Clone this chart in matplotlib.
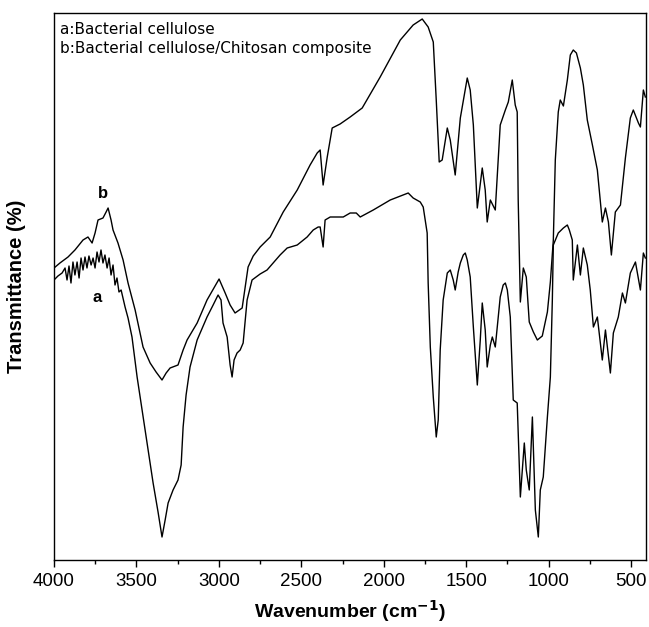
import matplotlib
matplotlib.use("Agg")
import matplotlib.pyplot as plt
import numpy as np

plt.rcParams['font.family'] = ['Liberation Sans', 'DejaVu Sans']

# Curve a: Bacterial cellulose (wavenumber cm-1, transmittance a.u.)
wn_a = [4000, 3976, 3951, 3933, 3921, 3909, 3897, 3885, 3873, 3860, 3848, 3836, 3824, 3812, 3800,
        3788, 3775, 3763, 3751, 3739, 3727, 3715, 3703, 3691, 3678, 3666, 3654, 3642, 3630, 3618,
        3606, 3593, 3569, 3551, 3527, 3496, 3466, 3436, 3399, 3369, 3345, 3326, 3308, 3278, 3248,
        3229, 3217, 3199, 3175, 3132, 3072, 3035, 3005, 2987, 2975, 2950, 2932, 2920, 2908, 2890,
        2871, 2853, 2829, 2799, 2750, 2708, 2671, 2629, 2586, 2525, 2465, 2428, 2398, 2386, 2368,
        2356, 2325, 2246, 2204, 2167, 2143, 2064, 1961, 1882, 1852, 1822, 1779, 1761, 1737, 1731,
        1718, 1700, 1682, 1670, 1658, 1640, 1615, 1597, 1579, 1567, 1549, 1536, 1518, 1506, 1494,
        1476, 1457, 1433, 1415, 1403, 1385, 1373, 1354, 1342, 1324, 1294, 1276, 1263, 1251, 1233,
        1215, 1191, 1172, 1148, 1136, 1118, 1099, 1081, 1063, 1051, 1033, 1008, 990, 978, 972,
        942, 911, 887, 875, 857, 851, 826, 808, 790, 766, 748, 729, 705, 675, 656,
        626, 608, 578, 553, 535, 505, 474, 444, 426, 414]
t_a = [280, 284, 287, 292, 280, 294, 277, 298, 285, 298, 282, 302, 290, 303, 292,
       304, 295, 302, 292, 308, 298, 310, 297, 305, 292, 302, 285, 295, 275, 282,
       268, 270, 253, 242, 223, 183, 150, 117, 77, 48, 23, 40, 57, 70, 80,
       95, 133, 165, 193, 220, 243, 255, 265, 260, 237, 223, 195, 183, 200, 207,
       210, 217, 260, 280, 286, 290, 297, 305, 312, 315, 323, 330, 333, 333, 313,
       340, 343, 343, 347, 347, 343, 350, 360, 365, 367, 362, 358, 353, 327, 277,
       213, 163, 123, 140, 210, 260, 287, 290, 280, 270, 288, 297, 305, 307, 300,
       283, 233, 175, 220, 257, 230, 193, 215, 223, 213, 263, 275, 277, 270, 243,
       160, 157, 63, 117, 90, 70, 143, 50, 23, 70, 83, 143, 183, 260, 315,
       327, 332, 335, 330, 320, 280, 315, 285, 312, 295, 270, 233, 243, 200, 230,
       187, 227, 243, 267, 257, 287, 298, 270, 307, 302]

# Curve b: Bacterial cellulose/Chitosan composite
wn_b = [4000, 3964, 3915, 3873, 3824, 3794, 3769, 3751, 3733, 3703, 3684, 3672, 3654, 3642, 3612,
        3581, 3551, 3508, 3460, 3417, 3381, 3345, 3320, 3296, 3248, 3217, 3193, 3132, 3072, 2999,
        2962, 2932, 2902, 2859, 2823, 2792, 2750, 2689, 2610, 2525, 2447, 2404, 2386, 2368, 2343,
        2313, 2265, 2204, 2131, 2022, 1900, 1822, 1767, 1731, 1700, 1682, 1664, 1646, 1615, 1597,
        1567, 1536, 1494, 1476, 1457, 1433, 1403, 1385, 1373, 1354, 1324, 1294, 1263, 1245, 1221,
        1203, 1191, 1185, 1172, 1154, 1136, 1118, 1093, 1069, 1039, 1008, 990, 972, 960, 942,
        930, 911, 887, 869, 851, 832, 808, 790, 766, 735, 705, 675, 656, 638, 620,
        596, 565, 535, 505, 487, 456, 444, 426, 414]
t_b = [292, 297, 303, 310, 320, 323, 317, 327, 340, 342, 348, 352, 340, 330, 317,
       300, 277, 250, 213, 197, 188, 180, 187, 192, 195, 210, 220, 237, 260, 281,
       267, 255, 247, 252, 293, 304, 313, 323, 348, 370, 395, 407, 410, 375, 403,
       432, 436, 443, 452, 483, 520, 535, 541, 533, 518, 460, 398, 400, 432, 420,
       385, 442, 482, 470, 435, 352, 392, 370, 338, 360, 350, 435, 450, 458, 480,
       455, 448, 360, 258, 292, 283, 238, 228, 220, 224, 248, 278, 320, 400, 448,
       460, 454, 480, 505, 510, 507, 492, 475, 440, 415, 390, 338, 352, 338, 305,
       348, 355, 402, 442, 450, 437, 433, 470, 463]

xticks = [4000, 3500, 3000, 2500, 2000, 1500, 1000, 500]
minor_xticks = [3750, 3250, 2750, 2250, 1750, 1250, 750]
legend_lines = ["a:Bacterial cellulose", "b:Bacterial cellulose/Chitosan composite"]

fig = plt.figure(figsize=(6.49, 6.27), dpi=100)
ax = fig.add_axes([54/649, 67/627, 592/649, 547/627])

ax.plot(wn_a, t_a, color='black', lw=1.0)
ax.plot(wn_b, t_b, color='black', lw=1.0)

ax.set_xlim(4000, 410)
ax.set_ylim(0, 547)
ax.set_xticks(xticks)
ax.set_xticks(minor_xticks, minor=True)
ax.set_yticks([])
ax.tick_params(axis='x', which='major', direction='out', length=5, width=1, labelsize=13.5, pad=4)
ax.tick_params(axis='x', which='minor', direction='out', length=3, width=1)
ax.tick_params(top=False, right=False)
for s in ax.spines.values():
    s.set_linewidth(1.0)

ax.set_xlabel("Wavenumber (cm$^{\\mathbf{-1}}$)", fontsize=14, fontweight='bold', labelpad=6)
ax.set_ylabel("Transmittance (%)", fontsize=14.5, fontweight='bold', labelpad=20)

ax.text(3964, 530, legend_lines[0], fontsize=11, va='center', ha='left', family='DejaVu Sans')
ax.text(3964, 511, legend_lines[1], fontsize=11, va='center', ha='left', family='DejaVu Sans')
ax.text(3700, 366, "b", fontsize=12, fontweight='bold', ha='center', va='center')
ax.text(3740, 263, "a", fontsize=12, fontweight='bold', ha='center', va='center')

fig.savefig("out.png", dpi=100)
